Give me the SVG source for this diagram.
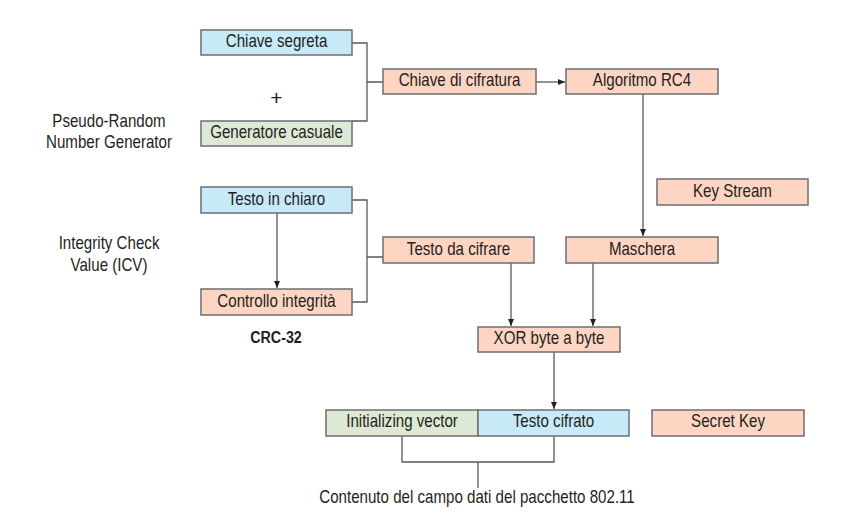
<svg xmlns="http://www.w3.org/2000/svg" width="858" height="526" viewBox="0 0 858 526">
<defs>
<marker id="ah" markerWidth="8" markerHeight="8" refX="7" refY="4" orient="auto" markerUnits="userSpaceOnUse">
<path d="M0,1 L7,4 L0,7 Z" fill="#231f20"/>
</marker>
</defs>
<style>
text{font-family:"Liberation Sans",Arial,sans-serif;font-size:18px;fill:#231f20;text-anchor:middle;transform-box:fill-box;transform-origin:center;transform:scaleX(0.84)}
.box{stroke:#6d6e71;stroke-width:1.5}
.blue{fill:#c7e9f8}
.green{fill:#dde9d5}
.salmon{fill:#fdd5c2}
.ln{fill:none;stroke:#58595b;stroke-width:1.3}
.bold{font-weight:bold;font-size:17px}
.plus{font-size:21px;transform:none}
</style>
<rect width="858" height="526" fill="#fff"/>
<g id="connectors">
<path class="ln" d="M352,43 H367 V121 H352 M367,82 H383"/>
<path class="ln" d="M536,82 H565" marker-end="url(#ah)"/>
<path class="ln" d="M643,94 V236" marker-end="url(#ah)"/>
<path class="ln" d="M352,200 H367 V302 H352 M367,257 H383"/>
<path class="ln" d="M277,213 V288" marker-end="url(#ah)"/>
<path class="ln" d="M511,263 V326" marker-end="url(#ah)"/>
<path class="ln" d="M593,263 V326" marker-end="url(#ah)"/>
<path class="ln" d="M554,352 V409" marker-end="url(#ah)"/>
<path class="ln" d="M402,436 V462 H554 V436 M478,462 V488"/>
</g>
<g id="chiave-segreta"><rect class="box blue" x="201" y="30" width="151" height="25"/><text x="276.5" y="47.5">Chiave segreta</text></g>
<g id="plus"><text class="plus" x="276.5" y="105">+</text></g>
<g id="generatore"><rect class="box green" x="201" y="121" width="151" height="25"/><text x="276.5" y="138.5">Generatore casuale</text></g>
<g id="prng"><text x="109" y="127.5">Pseudo-Random</text><text x="109" y="148.5">Number Generator</text></g>
<g id="chiave-cifratura"><rect class="box salmon" x="383" y="69" width="153" height="25"/><text x="459.5" y="86.5">Chiave di cifratura</text></g>
<g id="rc4"><rect class="box salmon" x="566" y="69" width="152" height="25"/><text x="642" y="86.5">Algoritmo RC4</text></g>
<g id="keystream"><rect class="box salmon" x="657" y="179" width="151" height="26"/><text x="732.5" y="197">Key Stream</text></g>
<g id="testo-chiaro"><rect class="box blue" x="201" y="187" width="151" height="26"/><text x="276.5" y="205">Testo in chiaro</text></g>
<g id="icv"><text x="109" y="249.5">Integrity Check</text><text x="109" y="271.5">Value (ICV)</text></g>
<g id="controllo"><rect class="box salmon" x="201" y="289" width="151" height="26"/><text x="276.5" y="307">Controllo integrità</text></g>
<g id="crc"><text class="bold" x="276" y="343.5">CRC-32</text></g>
<g id="testo-da-cifrare"><rect class="box salmon" x="383" y="237" width="151" height="26"/><text x="458.5" y="255">Testo da cifrare</text></g>
<g id="maschera"><rect class="box salmon" x="566" y="237" width="152" height="26"/><text x="642" y="255">Maschera</text></g>
<g id="xor"><rect class="box salmon" x="478" y="327" width="142" height="25"/><text x="549" y="344.5">XOR byte a byte</text></g>
<g id="iv"><rect class="box green" x="326" y="410" width="152" height="26"/><text x="402" y="427.5">Initializing vector</text></g>
<g id="testo-cifrato"><rect class="box blue" x="478" y="410" width="151" height="26"/><text x="553.5" y="427.5">Testo cifrato</text></g>
<g id="secret-key"><rect class="box salmon" x="652" y="410" width="152" height="26"/><text x="728" y="427.5">Secret Key</text></g>
<g id="contenuto"><text x="477" y="503">Contenuto del campo dati del pacchetto 802.11</text></g>
</svg>
